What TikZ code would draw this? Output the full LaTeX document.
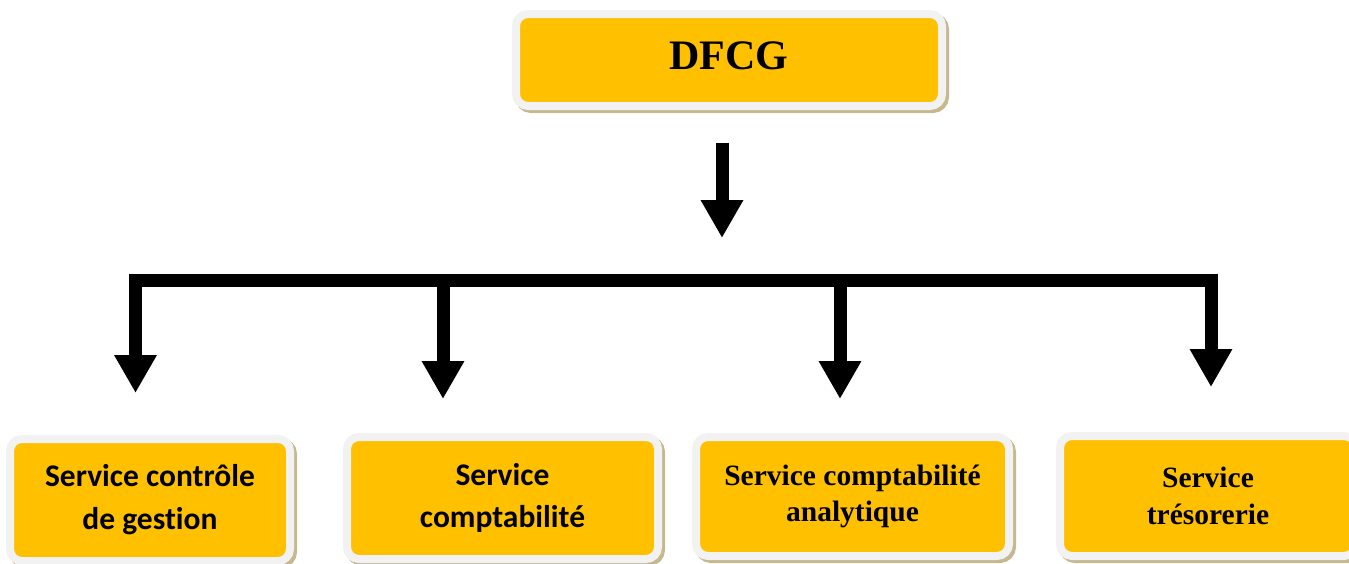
\documentclass[tikz,border=0pt]{standalone}
\usepackage{fontspec}
\newfontfamily\carlito[Ligatures=NoCommon]{Carlito}
\newfontfamily\timesf{Liberation Serif}
\usetikzlibrary{arrows.meta,shadows}
\definecolor{gold}{HTML}{FFC000}
\definecolor{rim}{HTML}{F2F2F2}
\definecolor{shade}{HTML}{C6B88F}
\tikzset{
  box/.style={rectangle, rounded corners=12pt, fill=gold, draw=rim, line width=8pt,
    align=center, inner sep=0pt,
    drop shadow={shadow xshift=3pt, shadow yshift=-3pt, fill=shade, draw=shade,
      line width=8pt, opacity=1}},
  bigtip/.tip={Triangle[width=40pt,length=38pt]},
  arr/.style={line width=13pt, -bigtip},
  sans/.style={font=\carlito\bfseries\fontsize{31.5}{#1}\selectfont},
  serif/.style={font=\timesf\bfseries\fontsize{29.5}{#1}\selectfont},
}
\begin{document}
\begin{tikzpicture}[x=1pt,y=-1pt]
\useasboundingbox (0,0) rectangle (1349,563);
\clip (0,0) rectangle (1349,563);

% head of the organisation
\node[box, minimum width=426pt, minimum height=92pt, text depth=8pt,
      font=\timesf\bfseries\fontsize{42}{50}\selectfont] (dfcg) at (729,60) {DFCG};

% the four services
\node[box, sans=43, minimum width=280pt, minimum height=122pt] (s1) at (150,500)
  {Service contrôle\\de gestion};
\node[box, sans=42, minimum width=311pt, minimum height=122pt] (s2) at (502.5,498)
  {Service\\comptabilité};
\node[box, serif=36, minimum width=313pt, minimum height=119pt] (s3) at (852.5,496.5)
  {Service comptabilité\\analytique};
\node[box, serif=37, minimum width=296pt, minimum height=120pt] (s4) at (1208,496)
  {Service\\trésorerie};

% arrow ends and junctions
\coordinate (top0) at (722,143);
\coordinate (top1) at (722,238);
\coordinate (jl) at (135.5,280.5);
\coordinate (jr) at (1211,280.5);
\coordinate (j2) at (443,280.5);
\coordinate (j3) at (840,280.5);
\coordinate (t1) at (135.5,393);
\coordinate (t2) at (443,399);
\coordinate (t3) at (840,399);
\coordinate (t4) at (1211,387);

% connectors
\draw[arr] (top0) -- (top1);
\draw[line width=13pt, line join=miter, bigtip-bigtip] (t1) -- (jl) -- (jr) -- (t4);
\draw[arr] (j2) -- (t2);
\draw[arr] (j3) -- (t3);
\end{tikzpicture}
\end{document}
